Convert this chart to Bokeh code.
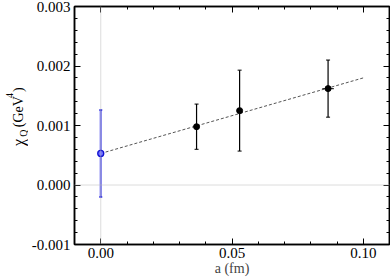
import math
from bokeh.plotting import figure
from bokeh.layouts import row
from bokeh.core.properties import value
from bokeh.models import (ColumnDataSource, Whisker, TeeHead, Span,
                          LinearAxis, SingleIntervalTicker, NumeralTickFormatter,
                          CustomJSTickFormatter)
from bokeh.embed import file_html
from bokeh.resources import INLINE

# ---- data ----
lat_a = [0.0365, 0.0529, 0.0866]
lat_chi = [0.00098, 0.00125, 0.00162]
lat_err = [0.00038, 0.00068, 0.00048]
lat_xerr = [0.0, 0.0, 0.0022]

cont_a = [0.0]
cont_chi = [0.00053]
cont_err = [0.00073]

fit_a = [0.0, 0.10]
fit_chi = [0.00053, 0.00180]

x_range = (-0.01, 0.11)
y_range = (-0.001, 0.003)

ylabel_parts = ["\u03c7", "Q", "(GeV", "4", ")"]

FONT = "'Liberation Serif', 'Times New Roman', serif"
LW = 28  # width of the strip that holds the y-axis title

p = figure(width=390 - LW, height=278, x_range=x_range, y_range=y_range,
           output_backend="svg", toolbar_location=None,
           min_border_left=73 - LW, min_border_right=1, min_border_top=6,
           min_border_bottom=32)
p.xgrid.visible = False
p.ygrid.visible = False
p.outline_line_color = "black"
p.outline_line_width = 1.5
p.background_fill_color = "white"
p.border_fill_color = "white"

xt = SingleIntervalTicker(interval=0.05, num_minor_ticks=5)
yt = SingleIntervalTicker(interval=0.001, num_minor_ticks=5)


def style_axis(ax, labels=True):
    ax.axis_line_color = "black"
    ax.axis_line_width = 1.5
    ax.major_tick_in = 6
    ax.major_tick_out = 0
    ax.minor_tick_in = 3
    ax.minor_tick_out = 0
    ax.major_tick_line_color = "black"
    ax.minor_tick_line_color = "black"
    ax.major_tick_line_width = 1
    ax.minor_tick_line_width = 1
    if labels:
        ax.major_label_text_font = FONT
        ax.major_label_text_font_size = "15px"
        ax.major_label_text_color = "black"
    else:
        ax.formatter = CustomJSTickFormatter(code="return ''")
        ax.major_label_standoff = 0


p.xaxis.ticker = xt
p.yaxis.ticker = yt
p.xaxis.formatter = NumeralTickFormatter(format="0.00")
p.yaxis.formatter = NumeralTickFormatter(format="0.000")
style_axis(p.xaxis[0])
style_axis(p.yaxis[0])
p.xaxis.major_label_standoff = 3
p.yaxis.major_label_standoff = 4
p.xaxis.axis_label = "a (fm)"
p.xaxis.axis_label_text_font = FONT
p.xaxis.axis_label_text_font_style = "normal"
p.xaxis.axis_label_text_font_size = "14px"
p.xaxis.axis_label_standoff = 0

top = LinearAxis(ticker=xt)
style_axis(top, labels=False)
p.add_layout(top, "above")
right = LinearAxis(ticker=yt)
style_axis(right, labels=False)
p.add_layout(right, "right")

# reference lines
p.add_layout(Span(location=0, dimension="height", line_color="#b8b8b8",
                  line_dash="1 1", line_width=1))
p.add_layout(Span(location=0, dimension="width", line_color="#b8b8b8",
                  line_dash="1 1", line_width=1))

# fit line
p.line(fit_a, fit_chi, line_color="#555555", line_dash="3 2", line_width=1)

# continuum point
cs = ColumnDataSource(dict(x=cont_a, y=cont_chi,
                           lo=[c - e for c, e in zip(cont_chi, cont_err)],
                           hi=[c + e for c, e in zip(cont_chi, cont_err)]))
p.add_layout(Whisker(source=cs, base="x", lower="lo", upper="hi",
                     line_color="#6e6ef0", line_width=2.2,
                     lower_head=TeeHead(size=3, line_color="#2222dd", line_width=1.5),
                     upper_head=TeeHead(size=3, line_color="#2222dd", line_width=1.5)))
p.scatter("x", "y", source=cs, size=6, marker="circle",
          fill_color="#7070ff", line_color="#1010d0", line_width=1.3)

# lattice points
ls = ColumnDataSource(dict(x=lat_a, y=lat_chi,
                           lo=[c - e for c, e in zip(lat_chi, lat_err)],
                           hi=[c + e for c, e in zip(lat_chi, lat_err)],
                           xlo=[a - e for a, e in zip(lat_a, lat_xerr)],
                           xhi=[a + e for a, e in zip(lat_a, lat_xerr)]))
p.add_layout(Whisker(source=ls, base="x", lower="lo", upper="hi",
                     line_color="black", line_width=1.2,
                     lower_head=TeeHead(size=4, line_color="black", line_width=1),
                     upper_head=TeeHead(size=4, line_color="black", line_width=1)))
p.segment(x0="xlo", x1="xhi", y0="y", y1="y", source=ls,
          line_color="#333333", line_width=1.2)
p.scatter("x", "y", source=ls, size=6, marker="circle",
          fill_color="black", line_color="black")

# ---- y-axis title strip (pixel coordinates of the strip) ----
q = figure(width=LW, height=278, x_range=(0, LW), y_range=(0, 278),
           output_backend="svg", toolbar_location=None,
           x_axis_location=None, y_axis_location=None,
           min_border_left=0, min_border_right=0, min_border_top=0,
           min_border_bottom=0)
q.xgrid.visible = False
q.ygrid.visible = False
q.outline_line_color = None
q.background_fill_color = "white"
q.border_fill_color = "white"

lab = ColumnDataSource(dict(
    text=ylabel_parts,
    x=[18, 23, 18, 9, 18],
    y=[278 - 163, 278 - 152, 278 - 141, 278 - 107, 278 - 100],
    size=["16px", "10px", "14px", "10px", "14px"],
))
q.text(x="x", y="y", text="text", source=lab, angle=math.pi / 2,
       text_font=value(FONT), text_font_size="size", text_color="black",
       text_align="left", text_baseline="alphabetic")

layout = row(q, p, spacing=0)
open("out.html", "w").write(file_html(layout, INLINE))
